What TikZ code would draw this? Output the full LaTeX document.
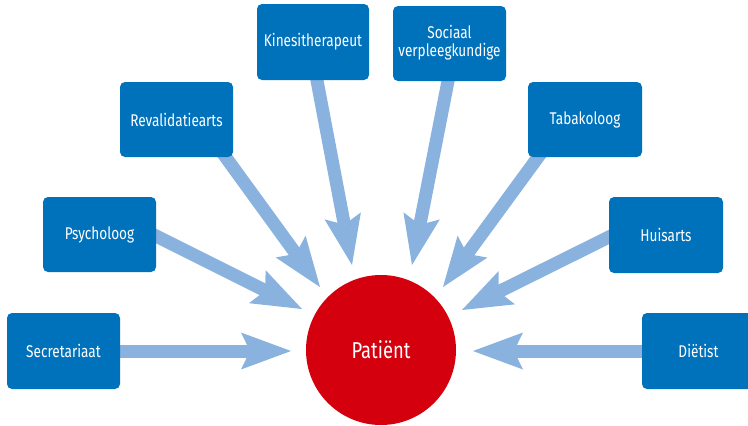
\documentclass[tikz,border=0pt]{standalone}
\usepackage{fontspec}
\setmainfont{Fira Sans}[FakeStretch=0.8]
\usetikzlibrary{arrows.meta}
\definecolor{boxblue}{RGB}{0,114,188}
\definecolor{arrblue}{RGB}{138,178,222}
\definecolor{patred}{RGB}{212,0,13}
\begin{document}
\begin{tikzpicture}[x=1pt,y=-1pt,
  rolebox/.style={fill=boxblue,rounded corners=5pt,text=white,font=\fontsize{17}{18}\selectfont,align=center,inner sep=0pt},
  arr/.style={draw=arrblue,line width=13pt,-{Stealth[length=50pt,width=37pt,inset=9pt,line width=0pt,fill=arrblue]}}]
\useasboundingbox (0,0) rectangle (748,426);
\clip (0,0) rectangle (748,426);
% circle
\node[circle,fill=patred,minimum size=150pt,inner sep=0pt,text=white,font=\fontsize{23}{24}\selectfont] (pat) at (381,350) {Patiënt};
% arrow endpoints
\coordinate (s1) at (110,351);  \coordinate (t1) at (291,351);
\coordinate (s2) at (146,231);  \coordinate (t2) at (302,309);
\coordinate (s3) at (219,148);  \coordinate (t3) at (320,287);
\coordinate (s4) at (315,70);   \coordinate (t4) at (352,265);
\coordinate (s5) at (450,71);   \coordinate (t5) at (412,265);
\coordinate (s6) at (544,149);  \coordinate (t6) at (443,287);
\coordinate (s7) at (619,232);  \coordinate (t7) at (462,310);
\coordinate (s8) at (652,351);  \coordinate (t8) at (473,351);
\foreach \i in {1,...,8} \draw[arr] (s\i) -- (t\i);
% boxes
\path[rolebox] (7,313) rectangle (120,389);
\node[text=white,font=\fontsize{17}{18}\selectfont] (sec) at (63.5,351) {Secretariaat};
\path[rolebox] (43,197) rectangle (156,272);
\node[text=white,font=\fontsize{17}{18}\selectfont] (psy) at (99.5,235) {Psycholoog};
\path[rolebox] (120,82) rectangle (233,157);
\node[text=white,font=\fontsize{17}{18}\selectfont] (rev) at (176.5,120) {Revalidatiearts};
\path[rolebox] (257,4) rectangle (369,80);
\node[text=white,font=\fontsize{17}{18}\selectfont] (kin) at (313,42) {Kinesitherapeut};
\path[rolebox] (393,6) rectangle (506,81);
\node[text=white,font=\fontsize{17}{18}\selectfont,align=center] (soc) at (449.5,43) {Sociaal\\verpleegkundige};
\path[rolebox] (528,82) rectangle (642,157);
\node[text=white,font=\fontsize{17}{18}\selectfont] (tab) at (585,120) {Tabakoloog};
\path[rolebox] (609,197) rectangle (723,273);
\node[text=white,font=\fontsize{17}{18}\selectfont] (hui) at (666,235) {Huisarts};
\path[rolebox] (642,313) rectangle (755,389);
\node[text=white,font=\fontsize{17}{18}\selectfont] (die) at (698.5,351) {Diëtist};
\end{tikzpicture}
\end{document}
